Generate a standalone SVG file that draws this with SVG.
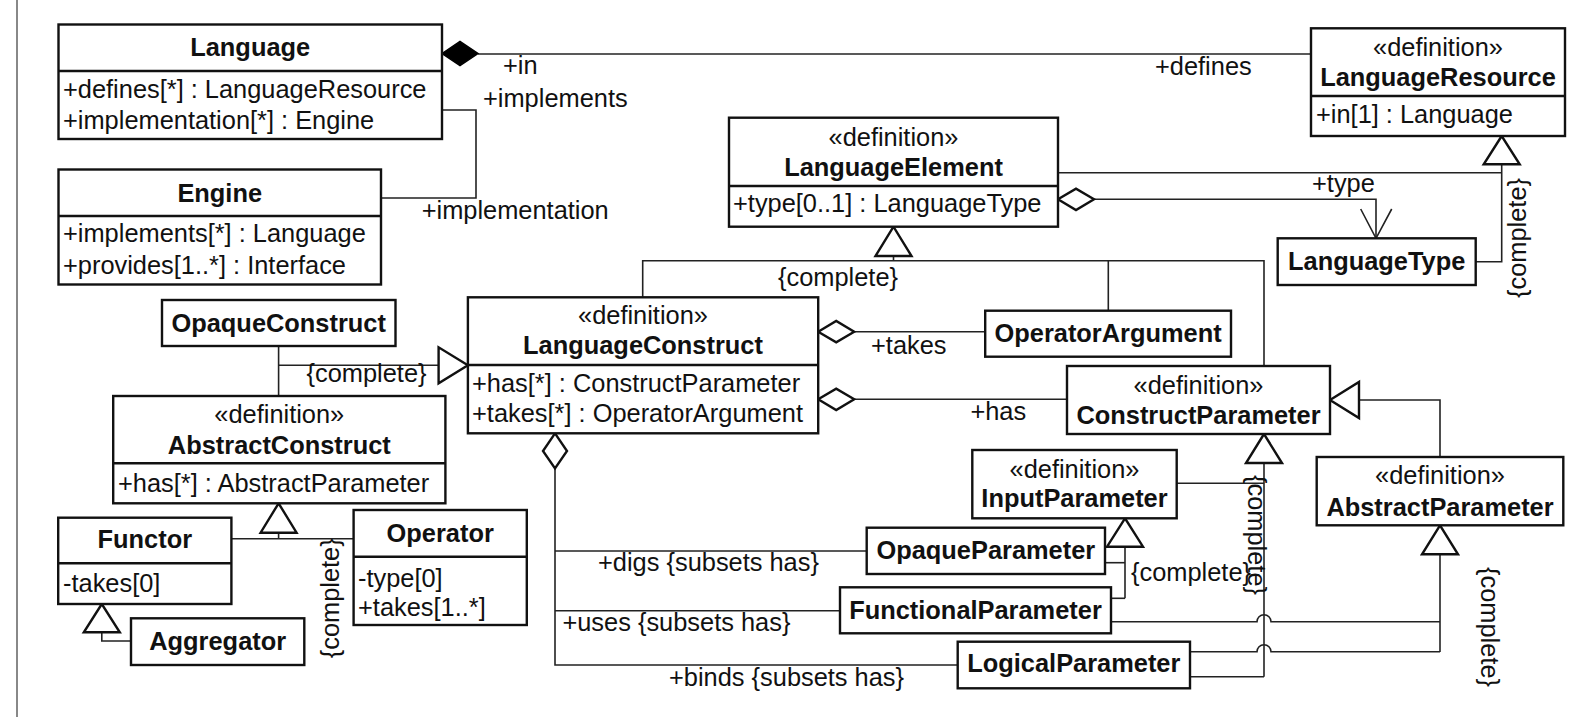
<svg xmlns="http://www.w3.org/2000/svg" width="1574" height="717" viewBox="0 0 1574 717">
<style>
text{font-family:"Liberation Sans",Arial,sans-serif;font-size:25.4px;fill:#111}
.b{font-weight:bold}
.m{text-anchor:middle}
.box{fill:#fff;stroke:#111;stroke-width:2.4}
.div{stroke:#111;stroke-width:2.4}
.c{fill:none;stroke:#222;stroke-width:1.6}
.tri{fill:#fff;stroke:#111;stroke-width:2.4;stroke-linejoin:miter}
.dia{fill:#fff;stroke:#111;stroke-width:2.4}
.fdia{fill:#000;stroke:#000;stroke-width:1.5}
</style>
<rect width="1574" height="717" fill="#fff"/>
<line x1="17" y1="0" x2="17" y2="717" stroke="#888" stroke-width="2"/>

<g id="connectors">
  <!-- Language - Engine -->
  <polyline class="c" points="442,110 476,110 476,198 381,198"/>
  <text x="483" y="107">+implements</text>
  <text x="421.7" y="219">+implementation</text>
  <!-- Language composite LanguageResource -->
  <line class="c" x1="478" y1="54" x2="1311" y2="54"/>
  <polygon class="fdia" points="442,53.5 460,41.5 478,53.5 460,65.5"/>
  <text x="503" y="74">+in</text>
  <text x="1155" y="75">+defines</text>
  <!-- LanguageResource generalization -->
  <polyline class="c" points="1501.7,164.3 1501.7,261.7 1475.7,261.7"/>
  <line class="c" x1="1058" y1="172.7" x2="1501.7" y2="172.7"/>
  <polygon class="tri" points="1501.7,136 1483.7,164.3 1519.7,164.3"/>
  <text class="m" transform="translate(1516.7,238) rotate(-90)" x="0" y="9">{complete}</text>
  <!-- LanguageElement type -> LanguageType -->
  <polyline class="c" points="1094,199.3 1376,199.3 1376,238.3"/>
  <polygon class="dia" points="1058,199.3 1076,188.6 1094,199.3 1076,210"/>
  <polyline class="c" points="1360.7,209 1376,238.3 1391.7,209"/>
  <text x="1312" y="192">+type</text>
  <!-- LanguageElement generalization bus -->
  <line class="c" x1="893.5" y1="256" x2="893.5" y2="260.7"/>
  <polyline class="c" points="642.7,297.3 642.7,260.7 1264,260.7 1264,366"/>
  <line class="c" x1="1108.3" y1="260.7" x2="1108.3" y2="310.7"/>
  <polygon class="tri" points="893.5,226.7 875.5,256 911.5,256"/>
  <text class="m" x="838" y="285.6">{complete}</text>
  <!-- LanguageConstruct generalization from left -->
  <line class="c" x1="278.6" y1="346" x2="278.6" y2="396"/>
  <line class="c" x1="278.6" y1="365.3" x2="438.6" y2="365.3"/>
  <polygon class="tri" points="467.9,365.3 438.6,347.3 438.6,383.3"/>
  <text class="m" x="366.5" y="382">{complete}</text>
  <!-- AbstractConstruct generalization -->
  <line class="c" x1="278.6" y1="532.7" x2="278.6" y2="538.7"/>
  <line class="c" x1="231.4" y1="538.7" x2="353.6" y2="538.7"/>
  <polygon class="tri" points="278.6,503.3 260.6,532.7 296.6,532.7"/>
  <text class="m" transform="translate(330.4,598.3) rotate(-90)" x="0" y="9">{complete}</text>
  <!-- Functor generalization -->
  <polyline class="c" points="101.8,632.3 101.8,641 131,641"/>
  <polygon class="tri" points="101.8,604 83.8,632.3 119.8,632.3"/>
  <!-- LanguageConstruct takes / has -->
  <line class="c" x1="854.2" y1="331.7" x2="985.2" y2="331.7"/>
  <polygon class="dia" points="818.2,331.7 836.2,321 854.2,331.7 836.2,342.4"/>
  <text x="871" y="354">+takes</text>
  <line class="c" x1="854.2" y1="399.3" x2="1067" y2="399.3"/>
  <polygon class="dia" points="818.2,399.3 836.2,388.6 854.2,399.3 836.2,410"/>
  <text x="970.4" y="419.7">+has</text>
  <!-- LanguageConstruct subsets -->
  <polyline class="c" points="555,468.5 555,665 957.7,665"/>
  <line class="c" x1="555" y1="551" x2="866.7" y2="551"/>
  <line class="c" x1="555" y1="610.7" x2="840" y2="610.7"/>
  <polygon class="dia" points="555,433.3 543,451 555,468.5 567,451"/>
  <text x="598" y="570.7">+digs {subsets has}</text>
  <text x="562.4" y="630.7">+uses {subsets has}</text>
  <text x="669" y="685.7">+binds {subsets has}</text>
  <!-- ConstructParameter <- AbstractParameter -->
  <polyline class="c" points="1359,400 1440,400 1440,457"/>
  <polygon class="tri" points="1330,400 1359,382 1359,418"/>
  <!-- ConstructParameter generalization -->
  <line class="c" x1="1264" y1="463" x2="1264" y2="676.7"/>
  <line class="c" x1="1176.7" y1="483.3" x2="1264" y2="483.3"/>
  <line class="c" x1="1190" y1="676.7" x2="1264" y2="676.7"/>
  <polygon class="tri" points="1264,434 1246,463 1282,463"/>
  <text class="m" transform="translate(1257,535) rotate(90)" x="0" y="9">{complete}</text>
  <!-- InputParameter generalization -->
  <line class="c" x1="1125" y1="546.7" x2="1125" y2="598.3"/>
  <line class="c" x1="1105" y1="562.7" x2="1125" y2="562.7"/>
  <line class="c" x1="1111" y1="598.3" x2="1125" y2="598.3"/>
  <polygon class="tri" points="1125,518.3 1107,546.7 1143,546.7"/>
  <text class="m" x="1191" y="580.7">{complete}</text>
  <!-- AbstractParameter generalization -->
  <line class="c" x1="1440" y1="554.3" x2="1440" y2="652"/>
  <path class="c" d="M1111 621.7 H1257 A7 7 0 0 1 1271 621.7 H1440"/>
  <path class="c" d="M1190 651.7 H1257 A7 7 0 0 1 1271 651.7 H1440"/>
  <polygon class="tri" points="1440,525.3 1422,554.3 1458,554.3"/>
  <text class="m" transform="translate(1490,627) rotate(90)" x="0" y="9">{complete}</text>
</g>

<g id="Language">
  <rect class="box" x="58.5" y="24.5" width="383.5" height="114.5"/>
  <line class="div" x1="58.5" y1="71" x2="442" y2="71"/>
  <text class="b m" x="250.2" y="56">Language</text>
  <text x="63" y="98">+defines[*] : LanguageResource</text>
  <text x="63" y="129">+implementation[*] : Engine</text>
</g>
<g id="Engine">
  <rect class="box" x="58.5" y="169.5" width="322.5" height="115"/>
  <line class="div" x1="58.5" y1="216" x2="381" y2="216"/>
  <text class="b m" x="219.7" y="202">Engine</text>
  <text x="63" y="242">+implements[*] : Language</text>
  <text x="63" y="274">+provides[1..*] : Interface</text>
</g>
<g id="LanguageResource">
  <rect class="box" x="1311" y="28.3" width="254" height="107.7"/>
  <line class="div" x1="1311" y1="96" x2="1565" y2="96"/>
  <text class="m" x="1438" y="56">«definition»</text>
  <text class="b m" x="1438" y="86">LanguageResource</text>
  <text x="1316" y="123">+in[1] : Language</text>
</g>
<g id="LanguageElement">
  <rect class="box" x="729" y="117.7" width="329" height="109"/>
  <line class="div" x1="729" y1="186" x2="1058" y2="186"/>
  <text class="m" x="893.5" y="146">«definition»</text>
  <text class="b m" x="893.5" y="176">LanguageElement</text>
  <text x="733" y="212">+type[0..1] : LanguageType</text>
</g>
<g id="LanguageType">
  <rect class="box" x="1277.7" y="238.3" width="198" height="46.7"/>
  <text class="b m" x="1376.7" y="270">LanguageType</text>
</g>
<g id="LanguageConstruct">
  <rect class="box" x="467.9" y="297.3" width="350.3" height="136"/>
  <line class="div" x1="467.9" y1="365" x2="818.2" y2="365"/>
  <text class="m" x="643" y="324">«definition»</text>
  <text class="b m" x="643" y="354">LanguageConstruct</text>
  <text x="472" y="392">+has[*] : ConstructParameter</text>
  <text x="472" y="422">+takes[*] : OperatorArgument</text>
</g>
<g id="OpaqueConstruct">
  <rect class="box" x="162" y="300" width="233.5" height="46"/>
  <text class="b m" x="278.7" y="332">OpaqueConstruct</text>
</g>
<g id="AbstractConstruct">
  <rect class="box" x="113.2" y="396" width="332.2" height="107.3"/>
  <line class="div" x1="113.2" y1="463.3" x2="445.4" y2="463.3"/>
  <text class="m" x="279.3" y="423">«definition»</text>
  <text class="b m" x="279.3" y="454">AbstractConstruct</text>
  <text x="118" y="491.7">+has[*] : AbstractParameter</text>
</g>
<g id="Functor">
  <rect class="box" x="58.2" y="517.7" width="173.2" height="86.3"/>
  <line class="div" x1="58.2" y1="563.3" x2="231.4" y2="563.3"/>
  <text class="b m" x="144.8" y="548.3">Functor</text>
  <text x="63" y="591.7">-takes[0]</text>
</g>
<g id="Operator">
  <rect class="box" x="353.6" y="510" width="173.2" height="115"/>
  <line class="div" x1="353.6" y1="556.7" x2="526.8" y2="556.7"/>
  <text class="b m" x="440.2" y="541.7">Operator</text>
  <text x="358" y="587.3">-type[0]</text>
  <text x="358" y="615.7">+takes[1..*]</text>
</g>
<g id="Aggregator">
  <rect class="box" x="131" y="618.3" width="173.3" height="46.7"/>
  <text class="b m" x="217.7" y="650">Aggregator</text>
</g>
<g id="OperatorArgument">
  <rect class="box" x="985.2" y="310.7" width="245.8" height="46"/>
  <text class="b m" x="1108.1" y="341.7">OperatorArgument</text>
</g>
<g id="ConstructParameter">
  <rect class="box" x="1067" y="366" width="263" height="68"/>
  <text class="m" x="1198.5" y="394">«definition»</text>
  <text class="b m" x="1198.5" y="424">ConstructParameter</text>
</g>
<g id="AbstractParameter">
  <rect class="box" x="1316.7" y="457" width="246.6" height="68.3"/>
  <text class="m" x="1440" y="484">«definition»</text>
  <text class="b m" x="1440" y="515.7">AbstractParameter</text>
</g>
<g id="InputParameter">
  <rect class="box" x="972.3" y="450" width="204.4" height="68.3"/>
  <text class="m" x="1074.5" y="478.3">«definition»</text>
  <text class="b m" x="1074.5" y="507.3">InputParameter</text>
</g>
<g id="OpaqueParameter">
  <rect class="box" x="866.7" y="527.7" width="238.3" height="46.3"/>
  <text class="b m" x="985.8" y="559">OpaqueParameter</text>
</g>
<g id="FunctionalParameter">
  <rect class="box" x="840" y="587.3" width="271" height="46"/>
  <text class="b m" x="975.5" y="619">FunctionalParameter</text>
</g>
<g id="LogicalParameter">
  <rect class="box" x="957.7" y="641.7" width="232.3" height="46.6"/>
  <text class="b m" x="1073.8" y="672.3">LogicalParameter</text>
</g>
</svg>
